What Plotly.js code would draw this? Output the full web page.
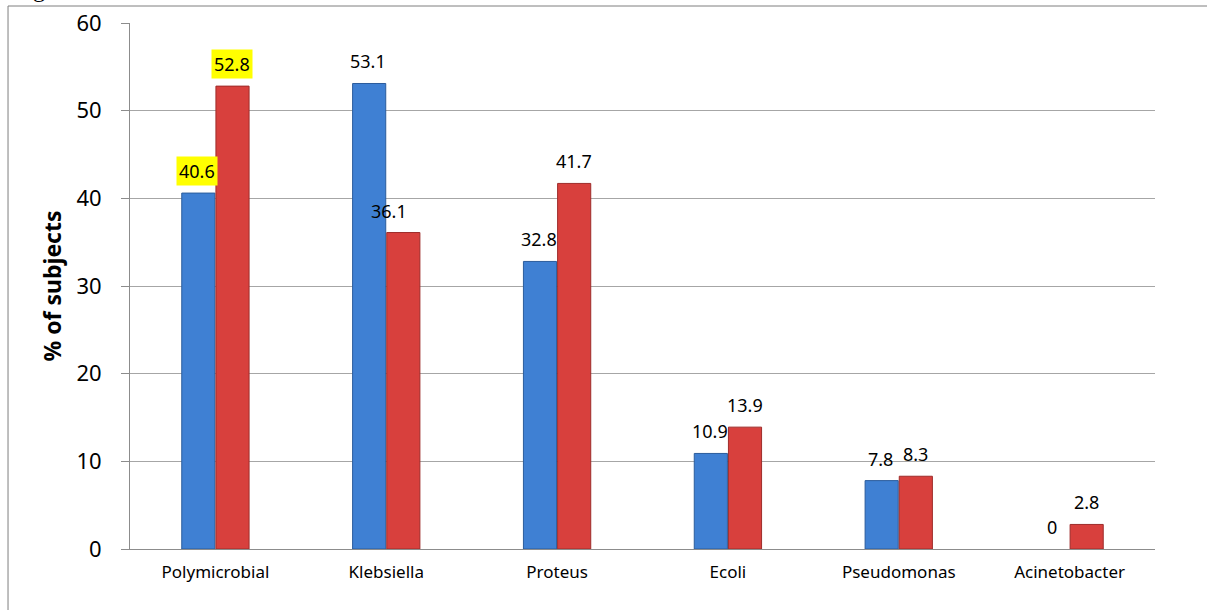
<!DOCTYPE html>
<html>
<head>
<meta charset="utf-8">
<script src="https://cdn.plot.ly/plotly-3.0.1.min.js"></script>
<style>html,body{margin:0;padding:0;background:#fff;}#chart{width:1207px;height:610px;}</style>
</head>
<body>
<div id="chart"></div>
<script>
const categories = ["Polymicrobial", "Klebsiella", "Proteus", "Ecoli", "Pseudomonas", "Acinetobacter"];
const seriesA = [40.6, 53.1, 32.8, 10.9, 7.8, 0];
const seriesB = [52.8, 36.1, 41.7, 13.9, 8.3, 2.8];
const highlightA = [true, false, false, false, false, false];
const highlightB = [true, false, false, false, false, false];
const yTicks = [0, 10, 20, 30, 40, 50, 60];

const FONT = "Noto Sans, Open Sans, Liberation Sans, sans-serif";

const traces = [
  {type: "bar", name: "A", x: categories, y: seriesA,
   marker: {color: "#3f80d3", line: {color: "#2b5c9c", width: seriesA.map(v => v > 0 ? 1 : 0)}}, hoverinfo: "x+y"},
  {type: "bar", name: "B", x: categories, y: seriesB,
   marker: {color: "#d8403d", line: {color: "#9e2c2a", width: seriesB.map(v => v > 0 ? 1 : 0)}}, hoverinfo: "x+y"}
];

const annotations = [];
categories.forEach((c, i) => {
  annotations.push({x: c, y: seriesA[i], xref: "x", yref: "y", text: String(seriesA[i]),
    showarrow: false, xshift: -18, yshift: 7, yanchor: "bottom",
    bgcolor: highlightA[i] ? "#ffff00" : "rgba(0,0,0,0)", borderpad: 2,
    font: {family: FONT, size: 18, color: "#000"}});
  annotations.push({x: c, y: seriesB[i], xref: "x", yref: "y", text: String(seriesB[i]),
    showarrow: false, xshift: (i === 1 ? 3 : 17), yshift: 7, yanchor: "bottom",
    bgcolor: highlightB[i] ? "#ffff00" : "rgba(0,0,0,0)", borderpad: 2,
    font: {family: FONT, size: 18, color: "#000"}});
});
annotations.push({xref: "paper", yref: "paper", x: -0.097, y: 1.036, xanchor: "left", yanchor: "bottom",
  text: "g", showarrow: false, font: {family: "Liberation Serif, serif", size: 24, color: "#000"}});

const layout = {
  width: 1207, height: 610,
  margin: {l: 130, r: 52, t: 23, b: 61},
  paper_bgcolor: "#fff", plot_bgcolor: "#fff",
  showlegend: false,
  barmode: "group", bargap: 0.6, bargroupgap: 0.03,
  font: {family: FONT, color: "#000"},
  xaxis: {
    type: "category", showgrid: false, showline: true, linecolor: "#8c8c8c", linewidth: 1,
    ticks: "", tickfont: {family: FONT, size: 17, color: "#000"}, ticklabelstandoff: 8,
    zeroline: false
  },
  yaxis: {
    range: [0, 60], tickvals: yTicks, ticktext: yTicks.map(String),
    showgrid: true, gridcolor: "#a6a6a6", gridwidth: 1,
    showline: true, linecolor: "#8c8c8c", linewidth: 1,
    ticks: "outside", ticklen: 8, tickcolor: "#8c8c8c",
    tickfont: {family: FONT, size: 22, color: "#000"}, ticklabelstandoff: 15,
    zeroline: false,
    title: {text: "<b>% of subjects</b>", font: {family: FONT, size: 23, color: "#000"}, standoff: 8}
  },
  annotations: annotations,
  shapes: [
    {type: "line", xref: "paper", yref: "paper", x0: -0.119, x1: -0.119, y0: -0.3, y1: 1.0323,
     line: {color: "#7f7f7f", width: 1}, layer: "below"},
    {type: "line", xref: "paper", yref: "paper", x0: -0.119, x1: 1.2, y0: 1.0323, y1: 1.0323,
     line: {color: "#7f7f7f", width: 1}, layer: "below"}
  ]
};

Plotly.newPlot("chart", traces, layout, {staticPlot: true, displayModeBar: false});
</script>
</body>
</html>
